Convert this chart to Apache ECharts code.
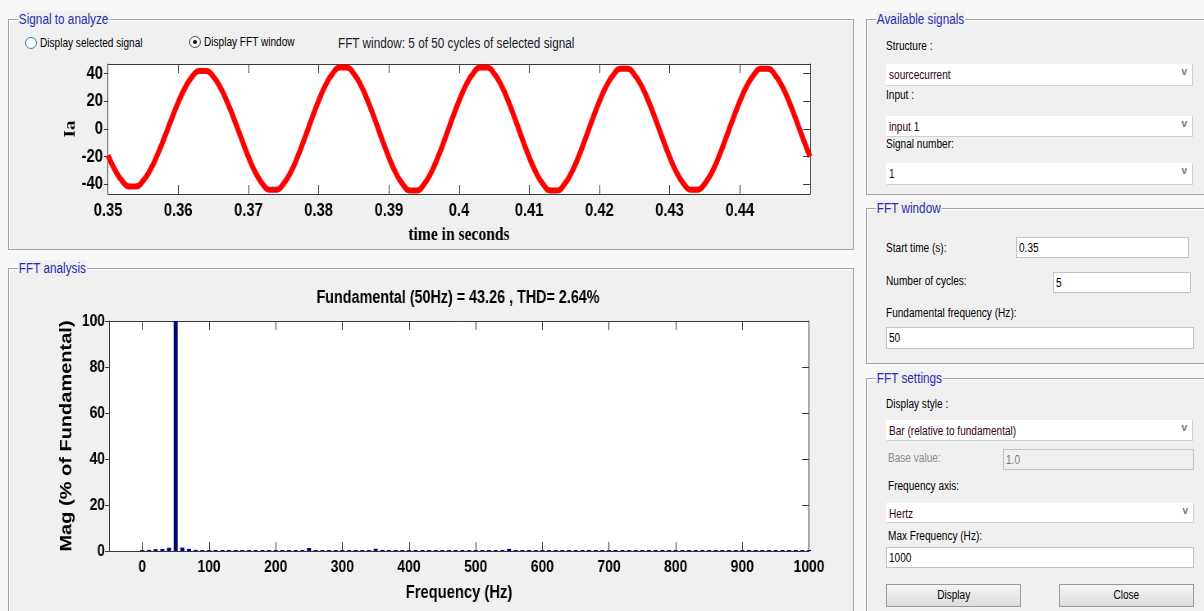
<!DOCTYPE html>
<html>
<head>
<meta charset="utf-8">
<title>FFT analysis</title>
<script src="https://cdn.jsdelivr.net/npm/echarts@6/dist/echarts.min.js"></script>
<style>
  body { margin: 0; background: #f8f8f8; }
  #page { position: relative; width: 1204px; height: 611px; overflow: hidden; }
  .box { position: absolute; background: #f0f0f0; border: 1px solid #a6a6a6; box-shadow: inset 1px 1px 0 #fff; box-sizing: border-box; }
  .ttl { position: absolute; top: -9px; left: 9px; background: #f0f0f0; color: #2a2ab0; padding: 0 1px;
         font: 14px 'Liberation Sans', Arial, sans-serif; line-height: 16px; transform: scaleX(0.84); transform-origin: 0 0; }
  .lbl { position: absolute; white-space: nowrap; color: #000;
         font: 12px 'Liberation Sans', Arial, sans-serif; line-height: 14px; transform: scaleX(0.84); transform-origin: 0 0; }
  .fld { position: absolute; background: #fff; border: 1px solid #c4c4c4; box-sizing: border-box; padding: 1px 0 0 2px;
         font: 12px 'Liberation Sans', Arial, sans-serif; line-height: 19px; color: #000; white-space: nowrap; }
  .fld .t { display: inline-block; transform: scaleX(0.84); transform-origin: 0 50%; }
  .fld.dd { border-color: #fff #d0d0d0 #d0d0d0 #fff; color: #300020; }
  .fld.off { background: #f0f0f0; color: #7a7a7a; }
  .arr { position: absolute; right: 5px; top: 1px; color: #777; font: bold 10px 'Liberation Sans', sans-serif; }
  .btn { position: absolute; background: linear-gradient(#f4f4f4, #dcdcdc); border: 1px solid #9a9a9a; box-sizing: border-box;
         text-align: center; font: 12px 'Liberation Sans', Arial, sans-serif; line-height: 21px; }
  .btn .t { display: inline-block; transform: scaleX(0.84); }
  .radio { position: absolute; width: 12px; height: 12px; border-radius: 50%; box-sizing: border-box; }
  #chart { position: absolute; left: 0; top: 0; height: 611px; z-index: 2; transform-origin: 0 0; }
</style>
</head>
<body>
<div id="page">
  <!-- left panels -->
  <div class="box" style="left:8px;top:19px;width:846px;height:231px;"><span class="ttl">Signal to analyze</span></div>
  <div class="box" style="left:8px;top:268px;width:846px;height:360px;"><span class="ttl">FFT analysis</span></div>
  <div class="radio" style="left:25px;top:37px;border:1px solid #3d7fc0;background:#fff;"></div>
  <div class="lbl" style="left:40px;top:36px;">Display selected signal</div>
  <div class="radio" style="left:189px;top:36px;border:1px solid #555;background:#f4f4f4;">
    <div style="position:absolute;left:3px;top:3px;width:4px;height:4px;border-radius:50%;background:#111;"></div>
  </div>
  <div class="lbl" style="left:204px;top:35px;">Display FFT window</div>
  <div class="lbl" style="left:338px;top:36px;font-size:14px;color:#1a1a2a;">FFT window: 5 of 50 cycles of selected signal</div>

  <!-- right panels -->
  <div class="box" style="left:866px;top:19px;width:360px;height:176px;"><span class="ttl">Available signals</span></div>
  <div class="lbl" style="left:886px;top:39px;">Structure :</div>
  <div class="fld dd" style="left:886px;top:64px;width:307px;height:22px;"><span class="t">sourcecurrent</span><span class="arr">v</span></div>
  <div class="lbl" style="left:886px;top:88px;">Input :</div>
  <div class="fld dd" style="left:886px;top:116px;width:307px;height:21px;"><span class="t">input 1</span><span class="arr">v</span></div>
  <div class="lbl" style="left:886px;top:137px;">Signal number:</div>
  <div class="fld dd" style="left:886px;top:163px;width:307px;height:22px;"><span class="t">1</span><span class="arr">v</span></div>

  <div class="box" style="left:866px;top:208px;width:360px;height:156px;"><span class="ttl">FFT window</span></div>
  <div class="lbl" style="left:886px;top:241px;">Start time (s):</div>
  <div class="fld" style="left:1016px;top:237px;width:173px;height:21px;"><span class="t">0.35</span></div>
  <div class="lbl" style="left:886px;top:274px;">Number of cycles:</div>
  <div class="fld" style="left:1053px;top:272px;width:138px;height:21px;"><span class="t">5</span></div>
  <div class="lbl" style="left:886px;top:306px;">Fundamental frequency (Hz):</div>
  <div class="fld" style="left:886px;top:327px;width:308px;height:22px;"><span class="t">50</span></div>

  <div class="box" style="left:866px;top:378px;width:360px;height:250px;"><span class="ttl">FFT settings</span></div>
  <div class="lbl" style="left:886px;top:397px;">Display style :</div>
  <div class="fld dd" style="left:886px;top:420px;width:307px;height:21px;"><span class="t">Bar (relative to fundamental)</span><span class="arr">v</span></div>
  <div class="lbl" style="left:888px;top:451px;color:#8a8a8a;">Base value:</div>
  <div class="fld off" style="left:1003px;top:449px;width:191px;height:21px;"><span class="t">1.0</span></div>
  <div class="lbl" style="left:888px;top:479px;">Frequency axis:</div>
  <div class="fld dd" style="left:886px;top:503px;width:308px;height:20px;line-height:18px;"><span class="t">Hertz</span><span class="arr">v</span></div>
  <div class="lbl" style="left:888px;top:529px;">Max Frequency (Hz):</div>
  <div class="fld" style="left:886px;top:547px;width:308px;height:21px;"><span class="t">1000</span></div>
  <div class="btn" style="left:886px;top:584px;width:135px;height:23px;"><span class="t">Display</span></div>
  <div class="btn" style="left:1059px;top:584px;width:135px;height:23px;"><span class="t">Close</span></div>

  <div id="chart"></div>
</div>

<script>
// ---- signal window (Ia, 0.35 .. 0.45 s, read every 1 ms) ----
var tStart = 0.35
var tStep = 0.001
var iaValues = [
  -19.1, -29.7, -37.4, -41.5, -41.5, -37.4, -29.7, -19.1, -6.6, 6.6,
  19.3, 30.0, 37.9, 42.0, 42.0, 37.9, 30.0, 19.3, 6.6, -6.9,
  -20.2, -31.5, -39.6, -44.0, -44.0, -39.6, -31.5, -20.2, -6.9, 7.0,
  20.4, 31.8, 40.1, 44.5, 44.5, 40.1, 31.8, 20.4, 7.0, -7.0,
  -20.4, -31.8, -40.1, -44.5, -44.5, -40.1, -31.8, -20.4, -7.0, 7.0,
  20.4, 31.8, 40.1, 44.5, 44.5, 40.1, 31.8, 20.4, 7.0, -7.0,
  -20.4, -31.8, -40.1, -44.5, -44.5, -40.1, -31.8, -20.4, -7.0, 6.9,
  20.0, 31.1, 39.2, 43.5, 43.5, 39.2, 31.1, 20.0, 6.9, -6.9,
  -20.2, -31.5, -39.6, -44.0, -44.0, -39.6, -31.5, -20.2, -6.9, 6.9,
  20.0, 31.1, 39.2, 43.5, 43.5, 39.2, 31.1, 20.0, 6.9, -6.9,
  -20.0
]
var timeTicks = [0.35, 0.36, 0.37, 0.38, 0.39, 0.4, 0.41, 0.42, 0.43, 0.44]
var iaTicks = [-40, -20, 0, 20, 40]

// ---- FFT spectrum (% of fundamental, 10 Hz bins) ----
var fftFreq = [
  0, 10, 20, 30, 40, 50, 60, 70, 80, 90,
  100, 110, 120, 130, 140, 150, 160, 170, 180, 190,
  200, 210, 220, 230, 240, 250, 260, 270, 280, 290,
  300, 310, 320, 330, 340, 350, 360, 370, 380, 390,
  400, 410, 420, 430, 440, 450, 460, 470, 480, 490,
  500, 510, 520, 530, 540, 550, 560, 570, 580, 590,
  600, 610, 620, 630, 640, 650, 660, 670, 680, 690,
  700, 710, 720, 730, 740, 750, 760, 770, 780, 790,
  800, 810, 820, 830, 840, 850, 860, 870, 880, 890,
  900, 910, 920, 930, 940, 950, 960, 970, 980, 990,
  1000
]
var fftMag = [
  0.2, 0.5, 0.8, 0.9, 1.4, 100, 1.5, 0.9, 0.5, 0.4,
  0.4, 0.4, 0.35, 0.4, 0.35, 0.45, 0.35, 0.4, 0.3, 0.35,
  0.4, 0.35, 0.3, 0.35, 0.4, 1.3, 0.4, 0.35, 0.3, 0.35,
  0.4, 0.3, 0.35, 0.3, 0.4, 1.0, 0.35, 0.3, 0.35, 0.3,
  0.35, 0.3, 0.35, 0.3, 0.35, 0.4, 0.3, 0.35, 0.3, 0.35,
  0.3, 0.35, 0.3, 0.35, 0.3, 0.9, 0.35, 0.3, 0.35, 0.3,
  0.35, 0.3, 0.35, 0.3, 0.35, 0.35, 0.3, 0.35, 0.3, 0.35,
  0.3, 0.35, 0.3, 0.35, 0.3, 0.35, 0.3, 0.35, 0.3, 0.35,
  0.3, 0.35, 0.3, 0.35, 0.3, 0.35, 0.3, 0.35, 0.3, 0.35,
  0.3, 0.35, 0.3, 0.35, 0.3, 0.35, 0.3, 0.35, 0.3, 0.35,
  0.3
]
var freqTicks = [0, 100, 200, 300, 400, 500, 600, 700, 800, 900, 1000]
var magTicks = [0, 20, 40, 60, 80, 100]

var titleText = 'Fundamental (50Hz) = 43.26 , THD= 2.64%'

// the screenshot is squeezed horizontally, so the chart is drawn wider and scaled back
var sx = 0.82
var chartWidth = 1204 / sx
var chartDom = document.getElementById('chart')
chartDom.style.width = chartWidth + 'px'
chartDom.style.transform = 'scaleX(' + sx + ')'

var sans = "'Liberation Sans', Arial, sans-serif"
var serif = "'Liberation Serif', 'Times New Roman', serif"
var axisColor = '#3a3a3a'

var chart = echarts.init(chartDom, null, { renderer: 'canvas' })

function X (px) { return px / sx }

function tickAxis (opt) {
  // common look of the MATLAB box axes
  return Object.assign({
    type: 'value',
    axisLine: { show: true, onZero: false, lineStyle: { color: axisColor, width: 1 } },
    splitLine: { show: false },
    axisLabel: { show: false }
  }, opt)
}

var labelStyle = { color: '#000', fontFamily: sans, fontWeight: 'bold', fontSize: 18 }

var option = {
  backgroundColor: 'transparent',
  animation: false,
  grid: [
    { left: X(108), top: 64, width: X(702), height: 130, show: true, backgroundColor: '#fff', borderWidth: 0 },
    { left: X(109), top: 321, width: X(700), height: 230, show: true, backgroundColor: '#fff', borderWidth: 0 }
  ],
  graphic: [
    {
      type: 'text', x: X(458), y: 298,
      style: { text: titleText, fill: '#000', font: 'bold 17.5px ' + sans, textAlign: 'center', textVerticalAlign: 'middle' }
    }
  ],
  xAxis: [
    tickAxis({
      gridIndex: 0, min: 0.35, max: 0.45, position: 'bottom',
      axisTick: { inside: true, length: 9, customValues: timeTicks, lineStyle: { color: axisColor } },
      axisLabel: Object.assign({ show: true, margin: 8, customValues: timeTicks,
        formatter: function (v) { return String(+v.toFixed(2)) } }, labelStyle),
      name: 'time in seconds', nameLocation: 'middle', nameGap: 32, nameMoveOverlap: false,
      nameTextStyle: { color: '#000', fontFamily: serif, fontWeight: 'bold', fontSize: 19 }
    }),
    tickAxis({
      gridIndex: 0, min: 0.35, max: 0.45, position: 'top',
      axisTick: { inside: true, length: 9, customValues: timeTicks, lineStyle: { color: axisColor } },
      axisLabel: { show: false, customValues: timeTicks }
    }),
    tickAxis({
      gridIndex: 1, min: -50, max: 1000, position: 'bottom',
      axisTick: { inside: true, length: 9, customValues: freqTicks, lineStyle: { color: axisColor } },
      axisLabel: Object.assign({ show: true, margin: 8, customValues: freqTicks,
        formatter: function (v) { return String(v) } }, labelStyle, { fontSize: 17 }),
      name: 'Frequency (Hz)', nameLocation: 'middle', nameGap: 33, nameMoveOverlap: false,
      nameTextStyle: { color: '#000', fontFamily: sans, fontWeight: 'bold', fontSize: 18 }
    }),
    tickAxis({
      gridIndex: 1, min: -50, max: 1000, position: 'top',
      axisTick: { inside: true, length: 9, customValues: freqTicks, lineStyle: { color: axisColor } },
      axisLabel: { show: false, customValues: freqTicks }
    })
  ],
  yAxis: [
    tickAxis({
      gridIndex: 0, min: -47, max: 47, position: 'left',
      axisTick: { inside: false, length: X(4), customValues: iaTicks, lineStyle: { color: axisColor } },
      axisLabel: Object.assign({ show: true, margin: X(5), customValues: iaTicks }, labelStyle),
      name: 'Ia', nameLocation: 'middle', nameGap: 36, nameRotate: 90, nameMoveOverlap: false,
      nameTextStyle: { color: '#000', fontFamily: serif, fontWeight: 'bold', fontSize: 19 }
    }),
    tickAxis({
      gridIndex: 0, min: -47, max: 47, position: 'right',
      axisTick: { inside: true, length: X(7), customValues: iaTicks, lineStyle: { color: axisColor } },
      axisLabel: { show: false, customValues: iaTicks }
    }),
    tickAxis({
      gridIndex: 1, min: 0, max: 100, position: 'left',
      axisTick: { inside: false, length: X(4), customValues: magTicks, lineStyle: { color: axisColor } },
      axisLabel: Object.assign({ show: true, margin: X(4), customValues: magTicks }, labelStyle, { fontSize: 17 }),
      name: 'Mag (% of Fundamental)', nameLocation: 'middle', nameGap: 41, nameRotate: 90, nameMoveOverlap: false,
      nameTextStyle: { color: '#000', fontFamily: sans, fontWeight: 'bold', fontSize: 20 }
    }),
    tickAxis({
      gridIndex: 1, min: 0, max: 100, position: 'right',
      axisTick: { inside: true, length: X(7), customValues: magTicks, lineStyle: { color: axisColor } },
      axisLabel: { show: false, customValues: magTicks }
    })
  ],
  series: [
    {
      name: 'Ia',
      type: 'line',
      xAxisIndex: 0,
      yAxisIndex: 0,
      smooth: true,
      showSymbol: false,
      clip: true,
      lineStyle: { color: '#ff0000', width: 6 },
      data: iaValues.map(function (v, i) { return [tStart + i * tStep, v] })
    },
    {
      name: 'FFT',
      type: 'bar',
      xAxisIndex: 2,
      yAxisIndex: 2,
      barWidth: X(4),
      barMinHeight: 1,
      itemStyle: { color: '#00007a' },
      data: fftFreq.map(function (f, i) { return [f, fftMag[i]] })
    }
  ]
}

chart.setOption(option)
</script>
</body>
</html>
